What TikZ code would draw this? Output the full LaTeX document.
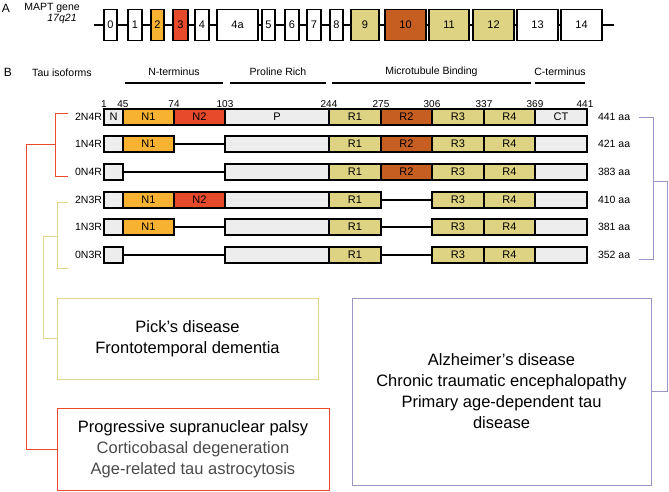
\documentclass[tikz,border=0pt]{standalone}
\usepackage{fontspec}
\setmainfont{Liberation Sans}
\usetikzlibrary{positioning}

\definecolor{exorange}{HTML}{F8B232}
\definecolor{exred}{HTML}{E64A2B}
\definecolor{exbrown}{HTML}{C65E22}
\definecolor{extan}{HTML}{DDD382}
\definecolor{exgray}{HTML}{EDEDED}
\definecolor{brred}{HTML}{EC4A2E}
\definecolor{bryel}{HTML}{E2D78A}
\definecolor{brpur}{HTML}{9B94C4}
\definecolor{txgray}{HTML}{4A4A4A}

\tikzset{
  exon/.style={draw, line width=1.6pt, fill=white, minimum height=31pt, inner sep=0pt, font=\fontsize{11}{11}\selectfont},
  seg/.style={draw, line width=1.6pt, minimum height=16pt, inner sep=0pt, font=\fontsize{11}{11}\selectfont},
  small/.style={font=\fontsize{10.5}{11}\selectfont, inner sep=0pt},
  posnum/.style={font=\fontsize{10}{10}\selectfont, inner sep=0pt},
  link/.style={line width=1.6pt},
  disease/.style={line width=1pt, font=\fontsize{16.5}{21}\selectfont, align=center}
}

% one block of an isoform: name, left, right, y, fill, text
\newcommand\seg[6]{\node[seg, fill=#5, minimum width={(#3-#2)*1pt}] (#1) at ({(#2+#3)/2},#4) {#6};}

\begin{document}
\begin{tikzpicture}[x=1pt,y=-1pt]
\useasboundingbox (0,0) rectangle (669,491);

% A: gene
\node[font=\fontsize{12}{12}\selectfont] (A) at (6,8) {A};
\node[small] (gene) at (52,8) {MAPT gene};
\node[small, font=\fontsize{10.5}{11}\itshape] (locus) at (62,19) {17q21};
\coordinate (g0) at (94,25);
\coordinate (g1) at (614,25);
\draw[line width=2.5pt] (g0) -- (g1);
\foreach \l/\a/\b/\c in {0/104/117/white, 1/128/142/white, 2/151/164/exorange, 3/173/188/exred,
    4/195/209/white, 4a/217/258/white, 5/262/275/white, 6/285/299/white, 7/307/321/white,
    8/330/343/white, 9/351/379/extan, 10/385/426/exbrown, 11/429/469/extan, 12/473/514/extan,
    13/517/558/white, 14/561/602/white}
  \node[exon, fill=\c, minimum width={(\b-\a)*1pt}] (ex\l) at ({(\a+\b)/2},25) {\l};

% B: domains
\node[font=\fontsize{12}{12}\selectfont] (B) at (8,72) {B};
\node[small] (tau) at (62,73) {Tau isoforms};
\foreach \n/\a/\b/\t in {nt/125/223/N-terminus, pr/230/326/Proline Rich, mb/332/531/Microtubule Binding, ct/535/585/C-terminus} {
  \node[small] (h\n) at ({(\a+\b)/2},72) {\t};
  \draw[line width=2.2pt] (\a,83) -- (\b,83);
}
\foreach \v/\x in {1/104, 45/123, 74/174, 103/225, 244/329, 275/381, 306/432, 337/484, 369/535, 441/585}
  \node[posnum] (p\v) at (\x,104) {\v};

% isoforms
\seg{aN}{104}{123}{117}{exgray}{N}
\seg{aN1}{123}{174}{117}{exorange}{N1}
\seg{aN2}{174}{225}{117}{exred}{N2}
\seg{aP}{225}{329}{117}{exgray}{P}
\seg{aR1}{329}{381}{117}{extan}{R1}
\seg{aR2}{381}{432}{117}{exbrown}{R2}
\seg{aR3}{432}{484}{117}{extan}{R3}
\seg{aR4}{484}{535}{117}{extan}{R4}
\seg{aCT}{535}{587}{117}{exgray}{CT}

\seg{bN}{104}{123}{144}{exgray}{}
\seg{bN1}{123}{174}{144}{exorange}{N1}
\seg{bP}{225}{329}{144}{exgray}{}
\seg{bR1}{329}{381}{144}{extan}{R1}
\seg{bR2}{381}{432}{144}{exbrown}{R2}
\seg{bR3}{432}{484}{144}{extan}{R3}
\seg{bR4}{484}{535}{144}{extan}{R4}
\seg{bCT}{535}{587}{144}{exgray}{}
\draw[link] (bN1) -- (bP);

\seg{cN}{104}{123}{172}{exgray}{}
\seg{cP}{225}{329}{172}{exgray}{}
\seg{cR1}{329}{381}{172}{extan}{R1}
\seg{cR2}{381}{432}{172}{exbrown}{R2}
\seg{cR3}{432}{484}{172}{extan}{R3}
\seg{cR4}{484}{535}{172}{extan}{R4}
\seg{cCT}{535}{587}{172}{exgray}{}
\draw[link] (cN) -- (cP);

\seg{dN}{104}{123}{200}{exgray}{}
\seg{dN1}{123}{174}{200}{exorange}{N1}
\seg{dN2}{174}{225}{200}{exred}{N2}
\seg{dP}{225}{329}{200}{exgray}{}
\seg{dR1}{329}{381}{200}{extan}{R1}
\seg{dR3}{432}{484}{200}{extan}{R3}
\seg{dR4}{484}{535}{200}{extan}{R4}
\seg{dCT}{535}{587}{200}{exgray}{}
\draw[link] (dR1) -- (dR3);

\seg{eN}{104}{123}{227}{exgray}{}
\seg{eN1}{123}{174}{227}{exorange}{N1}
\seg{eP}{225}{329}{227}{exgray}{}
\seg{eR1}{329}{381}{227}{extan}{R1}
\seg{eR3}{432}{484}{227}{extan}{R3}
\seg{eR4}{484}{535}{227}{extan}{R4}
\seg{eCT}{535}{587}{227}{exgray}{}
\draw[link] (eN1) -- (eP);
\draw[link] (eR1) -- (eR3);

\seg{fN}{104}{123}{255}{exgray}{}
\seg{fP}{225}{329}{255}{exgray}{}
\seg{fR1}{329}{381}{255}{extan}{R1}
\seg{fR3}{432}{484}{255}{extan}{R3}
\seg{fR4}{484}{535}{255}{extan}{R4}
\seg{fCT}{535}{587}{255}{exgray}{}
\draw[link] (fN) -- (fP);
\draw[link] (fR1) -- (fR3);

% names and lengths
\foreach \r/\n/\aa in {a/2N4R/441, b/1N4R/421, c/0N4R/383, d/2N3R/410, e/1N3R/381, f/0N3R/352} {
  \node[small, anchor=east] (lab\r) at ([xshift=-1pt]\r N.west) {\n};
  \node[small, anchor=west] (len\r) at ([xshift=10pt]\r CT.east) {\aa\ aa};
}

% diseases
\node[disease, draw=bryel, minimum width=261pt, minimum height=81pt] (pick) at (187.5,338.5)
  {Pick's disease\\Frontotemporal dementia};
\node[disease, draw=brred, minimum width=272pt, minimum height=82pt] (psp) at (193,449)
  {Progressive supranuclear palsy\\\textcolor{txgray}{Corticobasal degeneration}\\\textcolor{txgray}{Age-related tau astrocytosis}};
\node[disease, draw=brpur, minimum width=299pt, minimum height=187pt] (ad) at (501.5,391.5)
  {Alzheimer's disease\\Chronic traumatic encephalopathy\\Primary age-dependent tau\\disease};

% brackets
\draw[brred, line width=1pt] (68,113) -- (55,113) -- (55,176) -- (68,176);
\draw[brred, line width=1pt] (55,144) -- (26,144) |- (psp.west);
\draw[bryel, line width=1pt] (68,202) -- (57,202) -- (57,268) -- (68,268);
\draw[bryel, line width=1pt] (57,236) -- (43,236) |- (pick.west);
\draw[brpur, line width=1pt] (639,117) -- (653,117) -- (653,259) -- (639,259);
\draw[brpur, line width=1pt] (653,181) -- (667,181) |- (ad.east);
\end{tikzpicture}
\end{document}
